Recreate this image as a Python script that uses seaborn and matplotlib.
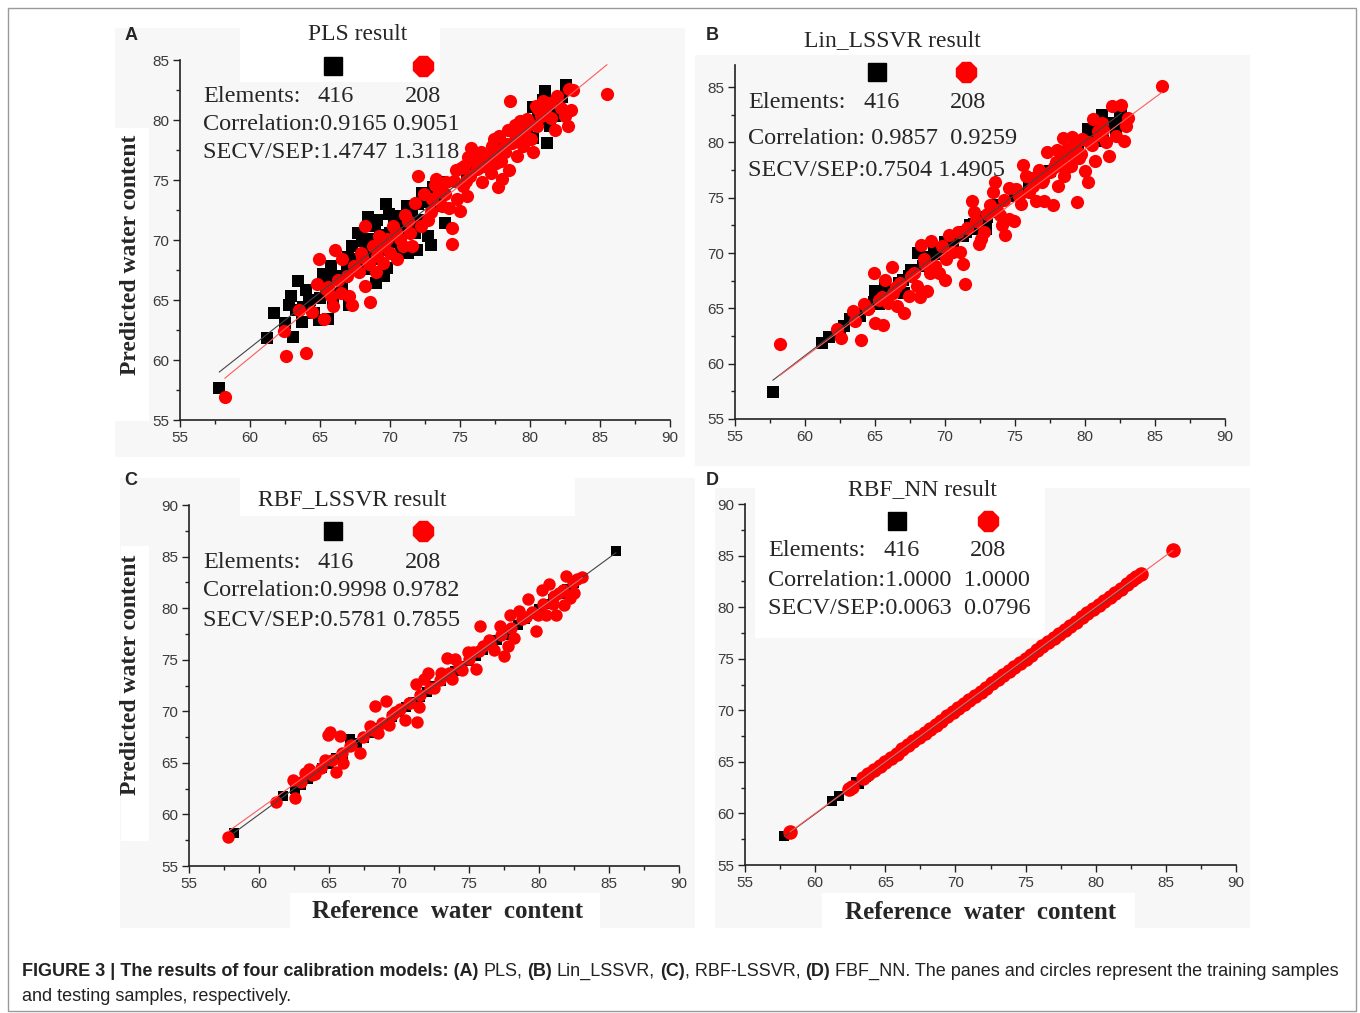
import numpy as np
import pandas as pd
import matplotlib
matplotlib.use("Agg")
import matplotlib.pyplot as plt
from matplotlib.patches import Rectangle
from matplotlib.lines import Line2D
from matplotlib.ticker import MultipleLocator
import seaborn as sns

# values: reference vs predicted water content
# (A) PLS
a_train_ref = [57.8, 61.2, 61.7, 62.5, 62.8, 62.9, 63.1, 63.4, 63.3, 63.7, 64.0, 64.2, 64.6, 64.9, 65.0, 65.2,
               65.6, 65.6, 65.8, 66.1, 66.3, 66.6, 66.9, 67.1, 67.3, 67.4, 67.7, 67.9, 68.2, 68.4, 68.5, 68.7,
               68.9, 69.0, 69.1, 69.4, 69.6, 69.7, 69.8, 70.0, 70.3, 70.4, 70.6, 70.8, 71.0, 71.2, 71.3, 71.5,
               71.8, 71.9, 72.2, 72.3, 72.5, 72.7, 72.9, 73.1, 73.3, 73.6, 73.9, 75.5, 76.0, 77.0, 78.0, 79.0,
               79.8, 80.2, 80.2, 80.6, 80.9, 81.1, 81.2, 81.4, 81.8, 82.0, 82.3, 82.6,
               64.3, 65.4, 66.0, 66.7, 67.0, 67.6, 68.0, 68.8, 69.3, 70.1, 70.7, 71.1, 71.6, 72.0, 72.6, 73.4,
               63.8, 65.9, 68.3, 69.9]
a_train_pred = [57.7, 61.8, 63.9, 63.1, 64.6, 65.3, 61.9, 66.6, 64.2, 63.2, 65.8, 64.8, 63.9, 63.3, 65.2, 67.2,
                66.3, 63.4, 67.8, 65.6, 67.0, 66.2, 67.7, 64.6, 69.5, 68.4, 70.6, 68.8, 67.6, 71.9, 70.1, 68.4,
                71.2, 66.4, 71.7, 69.2, 67.0, 73.0, 67.7, 70.6, 71.4, 70.1, 72.0, 68.9, 70.8, 72.8, 68.9, 71.4,
                70.6, 69.2, 71.7, 73.9, 73.2, 70.3, 69.6, 74.4, 72.8, 74.8, 71.4, 75.6, 76.4, 76.8, 77.9, 78.3,
                79.2, 81.1, 78.5, 80.1, 81.7, 82.4, 78.1, 79.5, 80.3, 81.2, 81.9, 82.9,
                65.0, 65.9, 66.8, 66.9, 68.6, 67.5, 69.9, 69.6, 70.4, 69.8, 71.3, 71.9, 72.4, 73.0, 73.6, 73.7,
                64.4, 65.1, 69.0, 72.2]
a_test_ref = [58.2, 62.4, 62.6, 64.0, 63.5, 64.4, 64.8, 64.9, 65.3, 65.4, 65.8, 65.9, 66.1, 66.3, 66.5, 66.6,
              67.1, 67.3, 67.4, 67.8, 67.9, 68.2, 68.2, 68.5, 68.6, 68.8, 69.0, 69.1, 69.2, 69.5, 69.6, 69.8,
              70.0, 70.2, 70.5, 70.7, 70.9, 71.1, 71.4, 71.6, 71.8, 72.0, 72.2, 72.4, 72.7, 72.9, 73.3, 73.5,
              73.7, 73.9, 74.2, 74.4, 74.4, 74.6, 74.8, 75.0, 75.2, 75.3, 75.5, 75.7, 75.8, 75.9, 76.2, 76.5,
              76.6, 76.8, 77.2, 77.3, 77.6, 77.7, 77.8, 78.0, 78.2, 78.4, 78.5, 78.6, 78.7, 79.0, 79.1, 79.3,
              79.5, 79.8, 80.1, 80.2, 80.5, 80.6, 80.9, 81.1, 81.4, 81.8, 81.9, 82.2, 82.5, 82.7, 82.8, 82.9,
              83.1, 85.5,
              76.0, 76.9, 77.5, 78.3, 79.2, 79.6, 80.0, 80.8, 74.0, 75.4, 76.4, 77.9, 78.9, 73.0, 70.4, 69.4,
              68.0, 66.9, 65.6, 71.3,
              75.1, 75.6, 76.3, 77.0, 77.4, 78.1, 78.8, 79.4, 80.4, 81.5, 74.7, 73.2]
a_test_pred = [56.9, 62.4, 60.3, 60.6, 64.2, 64.0, 66.3, 68.4, 63.4, 65.9, 65.3, 64.5, 69.2, 66.7, 65.6, 68.4,
               65.3, 64.6, 67.8, 67.3, 68.9, 66.2, 71.2, 68.0, 64.8, 69.5, 67.3, 68.7, 70.3, 68.1, 69.5, 70.1,
               68.9, 71.2, 68.4, 70.1, 69.5, 72.1, 70.6, 69.5, 73.1, 75.3, 71.2, 73.8, 71.7, 72.3, 75.1, 74.1,
               72.8, 73.8, 72.7, 71.0, 69.7, 74.9, 73.4, 72.4, 74.5, 76.2, 73.7, 75.3, 77.7, 76.7, 75.9, 77.3,
               74.8, 76.2, 75.6, 77.8, 76.4, 74.4, 78.7, 75.1, 77.3, 79.2, 75.8, 81.6, 78.1, 79.2, 77.0, 79.9,
               77.8, 80.1, 78.4, 77.3, 79.5, 80.9, 81.6, 80.6, 81.4, 79.2, 82.0, 81.0, 80.3, 79.5, 82.6, 80.8,
               82.5, 82.2,
               76.8, 76.9, 77.2, 78.0, 78.8, 79.0, 79.7, 80.3, 74.8, 74.9, 76.1, 76.6, 79.6, 73.4, 70.7, 69.9,
               68.6, 67.0, 66.1, 71.6,
               76.0, 76.9, 77.0, 76.5, 78.4, 77.6, 79.1, 78.2, 81.2, 80.2, 75.8, 74.6]

# (B) Lin_LSSVR
b_train_ref = [57.7, 61.2, 61.7, 62.8, 63.2, 63.7, 64.3, 64.6, 65.0, 65.3, 65.7, 65.9, 66.3, 66.7, 67.1, 67.4,
               67.6, 68.1, 68.4, 68.8, 69.2, 69.6, 70.0, 70.2, 70.6, 71.1, 71.5, 71.8, 72.1, 72.5, 72.9, 73.3,
               73.7, 75.0, 76.0, 76.5, 77.0, 77.5, 78.0, 78.5, 79.0, 79.5, 80.2, 80.4, 80.8, 81.2, 81.3, 81.8,
               82.2, 82.5, 82.6,
               62.5, 63.9, 64.9, 66.0, 67.0, 68.6, 69.4, 70.4, 71.3, 72.3, 73.0, 73.5]
b_train_pred = [57.4, 61.9, 62.4, 63.4, 64.0, 64.5, 64.9, 65.2, 66.6, 65.4, 67.0, 66.1, 66.7, 67.3, 66.4, 67.9,
                68.5, 70.0, 68.8, 69.6, 70.1, 70.4, 71.0, 70.7, 71.1, 71.7, 71.9, 72.5, 72.6, 73.1, 72.2, 73.7,
                74.3, 75.2, 76.1, 76.6, 77.2, 77.4, 78.0, 78.6, 79.1, 79.4, 81.2, 80.7, 81.5, 82.5, 80.1, 81.8,
                81.2, 82.2, 83.1,
                62.9, 64.3, 65.6, 66.4, 67.6, 68.9, 69.9, 70.5, 71.5, 72.2, 73.3, 73.9]
b_test_ref = [58.2, 62.3, 62.6, 63.4, 63.6, 64.0, 64.2, 64.5, 64.9, 65.0, 65.3, 65.6, 65.7, 65.9, 66.2, 66.3,
              66.6, 66.8, 67.1, 67.4, 67.8, 68.0, 68.2, 68.3, 68.5, 68.7, 68.9, 69.0, 69.3, 69.6, 70.0, 70.1,
              70.3, 70.6, 70.9, 71.1, 71.3, 71.4, 71.6, 71.9, 72.1, 72.4, 72.6, 72.8, 73.2, 73.4, 73.6, 73.9,
              74.1, 74.3, 74.6, 74.9, 75.1, 75.4, 75.6, 75.8, 76.0, 76.3, 76.5, 76.9, 77.1, 77.3, 77.5, 77.7,
              77.9, 78.1, 78.4, 78.5, 78.7, 79.0, 79.3, 79.4, 79.6, 79.8, 80.0, 80.2, 80.6, 80.7, 81.0, 81.2,
              81.5, 81.7, 81.9, 82.2, 82.6, 82.8, 82.9, 83.1, 85.5,
              76.2, 77.0, 77.8, 78.3, 78.9, 79.2, 79.7, 80.3, 80.9, 81.3, 75.3, 74.2, 73.0, 69.8, 68.6, 67.6,
              66.5, 65.5,
              76.7, 78.0, 78.6, 79.1, 80.5, 74.6, 73.7, 72.2]
b_test_pred = [61.8, 63.1, 62.3, 64.8, 63.9, 62.1, 65.4, 64.9, 68.2, 63.7, 65.8, 63.5, 67.6, 65.5, 68.7, 66.4,
               65.2, 67.3, 64.6, 66.1, 68.2, 67.0, 66.0, 70.7, 69.5, 66.6, 68.2, 71.1, 68.8, 68.2, 67.6, 69.5,
               71.6, 70.1, 71.9, 70.1, 69.0, 67.2, 72.3, 74.7, 73.7, 70.8, 71.3, 71.9, 74.3, 75.5, 76.4, 73.4,
               72.5, 71.6, 73.1, 72.9, 75.8, 74.4, 78.0, 77.0, 75.5, 76.1, 74.7, 76.4, 74.7, 79.1, 77.3, 74.3,
               78.2, 76.1, 80.4, 77.0, 79.4, 77.9, 79.7, 74.6, 78.6, 80.3, 77.4, 76.4, 82.1, 78.3, 80.7, 81.8,
               80.0, 78.8, 83.3, 80.6, 83.4, 80.1, 81.5, 82.2, 85.1,
               76.8, 76.6, 77.8, 78.4, 78.9, 79.6, 79.0, 80.0, 81.0, 81.1, 75.2, 74.8, 73.5, 70.6, 69.0, 67.9,
               66.9, 66.0,
               77.5, 79.3, 77.6, 80.5, 79.8, 75.9, 73.9, 72.9]

# (C) RBF_LSSVR
c_train_ref = [58.2, 61.7, 62.6, 63.0, 63.5, 64.0, 64.5, 65.0, 65.5, 66.0, 66.5, 67.0, 67.5, 68.0, 68.5, 69.0,
               69.5, 70.0, 70.5, 71.0, 71.5, 72.0, 72.5, 73.0, 73.5, 74.0, 74.5, 75.0, 75.5, 76.0, 76.5, 77.0,
               77.5, 78.0, 78.5, 79.0, 79.5, 80.0, 80.5, 81.0, 81.5, 82.0, 82.5, 85.5]
c_train_pred = [58.2, 61.8, 62.5, 62.9, 63.4, 63.9, 64.5, 64.9, 65.5, 65.9, 67.3, 66.9, 67.4, 67.9, 68.4, 68.9,
                69.4, 69.9, 70.4, 70.9, 71.4, 71.9, 72.5, 72.9, 73.4, 73.9, 74.4, 74.9, 75.4, 75.9, 76.4, 76.9,
                77.4, 77.9, 78.4, 78.9, 79.4, 79.9, 80.4, 80.9, 81.4, 81.9, 82.4, 85.5]
c_test_ref = [57.8, 61.2, 62.4, 62.6, 63.3, 63.6, 64.0, 64.7, 64.9, 65.1, 65.5, 65.8, 66.0, 66.5, 67.2, 67.9,
              68.3, 68.5, 69.1, 69.3, 69.7, 70.4, 70.8, 71.2, 71.3, 71.4, 71.8, 72.1, 72.5, 73.0, 73.4, 73.8,
              74.0, 74.5, 74.9, 75.3, 75.5, 75.8, 76.0, 76.4, 76.8, 77.2, 77.5, 77.8, 77.9, 78.2, 78.6, 79.1,
              79.2, 79.8, 79.9, 80.2, 80.5, 80.7, 81.0, 81.2, 81.4, 81.8, 81.9, 82.2, 82.5, 82.7, 83.1,
              63.0, 63.8, 64.4, 65.2, 65.9, 66.6, 67.4, 68.1, 68.8, 69.5, 70.1, 70.7, 71.5, 72.2, 72.9, 73.6,
              74.3, 75.0, 75.7, 76.5, 77.3, 78.0, 78.8, 79.5, 80.3, 81.1, 81.7, 82.4]
c_test_pred = [57.8, 61.2, 63.3, 61.6, 64.0, 64.4, 63.9, 65.3, 67.7, 68.0, 64.1, 67.6, 65.0, 66.6, 66.0, 68.6,
               70.5, 67.9, 71.0, 68.7, 69.9, 69.2, 70.8, 72.6, 69.0, 70.4, 73.1, 73.7, 72.3, 73.7, 75.2, 73.1,
               75.1, 74.0, 75.7, 75.7, 74.1, 78.3, 76.3, 76.9, 75.9, 78.3, 75.4, 76.3, 79.3, 77.1, 79.7, 79.1,
               80.9, 77.8, 79.3, 81.8, 79.3, 82.3, 80.4, 79.3, 81.5, 80.3, 83.1, 81.0, 81.5, 82.8, 83.0,
               63.1, 63.8, 64.5, 65.3, 66.0, 66.7, 67.5, 68.2, 68.9, 69.6, 70.2, 70.8, 71.6, 72.3, 73.0, 73.7,
               74.4, 75.1, 75.8, 76.6, 77.4, 78.1, 78.9, 79.6, 80.4, 81.2, 81.8, 82.5]

# (D) RBF_NN
d_train_ref = [57.8, 61.2, 61.7, 62.9, 63.1, 63.6, 64.3, 65.0, 65.8, 66.6, 67.4, 68.2, 69.0, 69.8, 70.6, 71.4,
               72.2, 73.0, 73.8, 74.6, 75.4, 76.2, 77.0, 77.8, 78.6, 79.4, 80.2, 81.0, 81.8, 82.5]
d_train_pred = [57.8, 61.2, 61.7, 63.0, 62.9, 63.5, 64.2, 64.9, 65.7, 66.5, 67.3, 68.1, 68.9, 69.7, 70.5, 71.3,
                72.1, 72.9, 73.7, 74.5, 75.3, 76.1, 76.9, 77.7, 78.5, 79.3, 80.1, 80.9, 81.7, 82.4]
d_test_ref = [58.2, 62.4, 62.6, 63.4, 63.8, 64.2, 64.6, 65.0, 65.4, 65.8, 66.2, 66.6, 67.0, 67.4, 67.8, 68.2,
              68.6, 69.0, 69.4, 69.8, 70.2, 70.6, 71.0, 71.4, 71.8, 72.2, 72.6, 73.0, 73.4, 73.8, 74.2, 74.6,
              75.0, 75.4, 75.8, 76.2, 76.6, 77.0, 77.4, 77.8, 78.2, 78.6, 79.0, 79.4, 79.8, 80.2, 80.6, 81.0,
              81.4, 81.8, 82.2, 82.6, 82.9, 83.2, 85.5]
d_test_pred = [58.2, 62.4, 62.6, 63.4, 63.8, 64.2, 64.6, 65.0, 65.4, 65.8, 66.2, 66.6, 67.0, 67.4, 67.8, 68.2,
               68.6, 69.0, 69.4, 69.8, 70.2, 70.6, 71.0, 71.4, 71.8, 72.2, 72.6, 73.0, 73.4, 73.8, 74.2, 74.6,
               75.0, 75.4, 75.8, 76.2, 76.6, 77.0, 77.4, 77.8, 78.2, 78.6, 79.0, 79.4, 79.8, 80.2, 80.6, 81.0,
               81.4, 81.8, 82.2, 82.6, 82.9, 83.2, 85.5]

titles = ["PLS result", "Lin_LSSVR result", "RBF_LSSVR result", "RBF_NN result"]
elements = ["416", "208"]
correlation_lines = ["Correlation:0.9165 0.9051", "Correlation: 0.9857  0.9259",
                     "Correlation:0.9998 0.9782", "Correlation:1.0000  1.0000"]
secv_lines = ["SECV/SEP:1.4747 1.3118", "SECV/SEP:0.7504 1.4905",
              "SECV/SEP:0.5781 0.7855", "SECV/SEP:0.0063  0.0796"]

sns.set_style("ticks")
plt.rcParams["font.family"] = ["Liberation Sans", "DejaVu Sans"]
serif = ["Liberation Serif", "DejaVu Serif"]

W, H = 1360, 1013
fig = plt.figure(figsize=(W / 100, H / 100), dpi=100)


def fx(px):
    return px / W


def fy(py):
    return 1 - py / H


def box(x0, y0, x1, y1, color, z):
    fig.add_artist(Rectangle((fx(x0), fy(y1)), (x1 - x0) / W, (y1 - y0) / H,
                             transform=fig.transFigure, facecolor=color, edgecolor="none", zorder=z))


GRAY = "#f7f7f7"

# layout of each panel in pixels
panels = [
    dict(letter="A", letter_xy=(131, 35), axes=(180, 60, 670, 420), ylim=(55, 85), title_xy=(358, 35),
         mk_y=66, mk_x=(333, 423), txt_x=203, txt_y=(96, 125, 153), num_x=(318, 405),
         gray=(115, 28, 685, 457), whites=[(240, 20, 440, 82), (112, 128, 149, 421)],
         sq=72, ci=90, ylabel=(130, 255), xlabel=None,
         data=(a_train_ref, a_train_pred, a_test_ref, a_test_pred)),
    dict(letter="B", letter_xy=(712, 35), axes=(735, 65, 1225, 419), ylim=(55, 87), title_xy=(892, 41),
         mk_y=72, mk_x=(877, 966), txt_x=748, txt_y=(103, 138, 170), num_x=(864, 950),
         gray=(695, 55, 1250, 466), whites=[], sq=72, ci=90, ylabel=None, xlabel=None,
         data=(b_train_ref, b_train_pred, b_test_ref, b_test_pred)),
    dict(letter="C", letter_xy=(131, 480), axes=(189, 505, 679, 866), ylim=(55, 90), title_xy=(352, 500),
         mk_y=531, mk_x=(333, 423), txt_x=203, txt_y=(562, 591, 620), num_x=(318, 405),
         gray=(120, 478, 695, 928), whites=[(240, 470, 575, 516), (121, 546, 149, 841), (290, 893, 600, 930)],
         sq=48, ci=80, ylabel=(130, 675), xlabel=(448, 911),
         data=(c_train_ref, c_train_pred, c_test_ref, c_test_pred)),
    dict(letter="D", letter_xy=(712, 480), axes=(745, 504, 1236, 865), ylim=(55, 90), title_xy=(922, 490),
         mk_y=521, mk_x=(897, 988), txt_x=768, txt_y=(551, 580, 609), num_x=(884, 970),
         gray=(715, 488, 1250, 928), whites=[(755, 466, 1045, 638), (822, 893, 1135, 932)],
         sq=55, ci=110, ylabel=None, xlabel=(981, 912),
         data=(d_train_ref, d_train_pred, d_test_ref, d_test_pred)),
]

for i, p in enumerate(panels):
    box(*p["gray"], GRAY, -2)
    for w in p["whites"]:
        box(*w, "white", -1)

    x0, y0, x1, y1 = p["axes"]
    ax = fig.add_axes([fx(x0), fy(y1), (x1 - x0) / W, (y1 - y0) / H])
    ax.set_facecolor("none")

    tr_ref, tr_pred, te_ref, te_pred = p["data"]
    sns.scatterplot(x=tr_ref, y=tr_pred, marker="s", color="black", s=p["sq"], linewidth=0, ax=ax, zorder=2)
    sns.scatterplot(x=te_ref, y=te_pred, marker="o", color="#ff0000", s=p["ci"], linewidth=0, ax=ax, zorder=2)
    sns.regplot(x=np.array(tr_ref), y=np.array(tr_pred), scatter=False, ci=None, color="#444444",
                line_kws=dict(lw=0.8, zorder=4), ax=ax)
    sns.regplot(x=np.array(te_ref), y=np.array(te_pred), scatter=False, ci=None, color="#ff5a5a",
                line_kws=dict(lw=0.8, zorder=5), ax=ax)

    ax.set_xlim(55, 90)
    ax.set_ylim(*p["ylim"])
    ax.set_xlabel("")
    ax.set_ylabel("")
    ax.xaxis.set_major_locator(MultipleLocator(5))
    ax.xaxis.set_minor_locator(MultipleLocator(2.5))
    ax.yaxis.set_major_locator(MultipleLocator(5))
    ax.yaxis.set_minor_locator(MultipleLocator(2.5))
    ax.tick_params(which="major", direction="out", length=5, width=1, color="#222222",
                   labelsize=11, labelcolor="#3a3a3a", pad=3)
    ax.tick_params(which="minor", direction="out", length=3, width=1, color="#222222")
    sns.despine(ax=ax)
    for side in ("left", "bottom"):
        ax.spines[side].set_linewidth(1.2)
        ax.spines[side].set_color("#222222")

    fig.text(fx(p["letter_xy"][0]), fy(p["letter_xy"][1]), p["letter"], fontsize=13, fontweight="bold",
             ha="center", va="center")
    fig.text(fx(p["title_xy"][0]), fy(p["title_xy"][1]), titles[i], family=serif, fontsize=17,
             ha="center", va="center")
    fig.add_artist(Line2D([fx(p["mk_x"][0])], [fy(p["mk_y"])], marker="s", markersize=13, color="black",
                          linestyle="none", transform=fig.transFigure))
    fig.add_artist(Line2D([fx(p["mk_x"][1])], [fy(p["mk_y"])], marker="8", markersize=15, color="#ff0000",
                          linestyle="none", transform=fig.transFigure))
    ty = p["txt_y"]
    fig.text(fx(p["txt_x"]), fy(ty[0]), "Elements:", family=serif, fontsize=17.5, ha="left", va="center")
    for nx, n in zip(p["num_x"], elements):
        fig.text(fx(nx), fy(ty[0]), n, family=serif, fontsize=17.5, ha="left", va="center")
    fig.text(fx(p["txt_x"]), fy(ty[1]), correlation_lines[i], family=serif, fontsize=17.5, ha="left",
             va="center")
    fig.text(fx(p["txt_x"]), fy(ty[2]), secv_lines[i], family=serif, fontsize=17.5, ha="left", va="center")

    if p["ylabel"]:
        fig.text(fx(p["ylabel"][0]), fy(p["ylabel"][1]), "Predicted water content", family=serif,
                 fontsize=17, fontweight="bold", rotation=90, ha="center", va="center")
    if p["xlabel"]:
        fig.text(fx(p["xlabel"][0]), fy(p["xlabel"][1]), "Reference  water  content", family=serif,
                 fontsize=18, fontweight="bold", ha="center", va="center")

# frame around the figure
fig.add_artist(Rectangle((fx(8), fy(1011)), (1356 - 8) / W, (1011 - 8) / H, transform=fig.transFigure,
                         facecolor="none", edgecolor="#9a9a9a", lw=1, zorder=-3))

# caption with bold and regular runs
runs = [("FIGURE 3 | The results of four calibration models: (A)", "bold", False),
        ("PLS,", "normal", True), ("(B)", "bold", True), ("Lin_LSSVR,", "normal", True),
        ("(C)", "bold", True), (", RBF-LSSVR,", "normal", False), ("(D)", "bold", True),
        ("FBF_NN. The panes and circles represent the training samples", "normal", True)]
renderer = fig.canvas.get_renderer()


def draw_caption(size):
    arts = []
    probe1 = fig.text(0, 0, "x x", fontsize=size)
    probe2 = fig.text(0, 0, "xx", fontsize=size)
    space = (probe1.get_window_extent(renderer).width - probe2.get_window_extent(renderer).width)
    probe1.remove()
    probe2.remove()
    x = 22.0
    for txt, wt, gap in runs:
        if gap:
            x += space
        t = fig.text(fx(x), fy(971), txt, fontsize=size, fontweight=wt, ha="left", va="center", color="#222222")
        arts.append(t)
        x += t.get_window_extent(renderer).width
    return arts, x - 22.0


arts, width = draw_caption(12)
for a in arts:
    a.remove()
size = 12 * 1318 / width
draw_caption(size)
fig.text(fx(22), fy(996), "and testing samples, respectively.", fontsize=size, ha="left", va="center",
         color="#222222")

fig.savefig("out.png", dpi=100)
